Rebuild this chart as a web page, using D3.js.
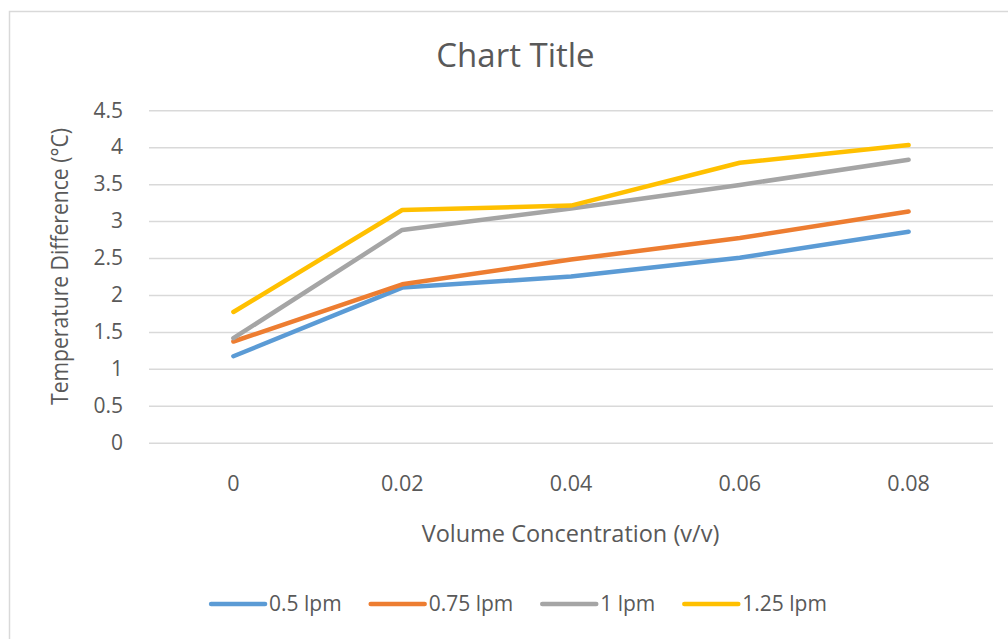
<!DOCTYPE html>
<html>
<head>
<meta charset="utf-8">
<script src="https://cdn.jsdelivr.net/npm/d3@7"></script>
<style>
  html, body { margin: 0; padding: 0; background: #fff; overflow: hidden; }
  svg { display: block; }
  text { font-family: "Open Sans", "Noto Sans", sans-serif; fill: #595959; }
</style>
</head>
<body>
<svg id="chart" width="1008" height="639"></svg>
<script>
// Volume concentrations (category axis)
const categories = ["0", "0.02", "0.04", "0.06", "0.08"];
// Temperature difference (°C) per flow rate
const flow050 = [1.17, 2.10, 2.25, 2.505, 2.857];
const flow075 = [1.37, 2.145, 2.48, 2.77, 3.13];
const flow100 = [1.415, 2.88, 3.17, 3.49, 3.83];
const flow125 = [1.77, 3.15, 3.21, 3.79, 4.03];
const seriesNames = ["0.5 lpm", "0.75 lpm", "1 lpm", "1.25 lpm"];
const yTicks = [0, 0.5, 1, 1.5, 2, 2.5, 3, 3.5, 4, 4.5];

const colors = ["#5B9BD5", "#ED7D31", "#A5A5A5", "#FFC000"];
const series = [flow050, flow075, flow100, flow125].map((values, i) => ({
  name: seriesNames[i], values, color: colors[i]
}));

const svg = d3.select("#chart");

// outer chart frame
svg.append("rect")
  .attr("x", 9.5).attr("y", 11.5)
  .attr("width", 1013).attr("height", 700)
  .attr("fill", "#fff").attr("stroke", "#d9d9d9").attr("stroke-width", 1.5);

const plot = { left: 149, right: 993, top: 110.3, bottom: 442.7 };

const x = d3.scaleBand().domain(categories).range([plot.left, plot.right]);
const y = d3.scaleLinear().domain([0, 4.5]).range([plot.bottom, plot.top]);

// horizontal gridlines + y tick labels
const yAxis = d3.axisLeft(y).tickValues(yTicks).tickSize(-(plot.right - plot.left)).tickPadding(26)
  .tickFormat(d3.format("~g"));
const gy = svg.append("g").attr("transform", `translate(${plot.left},0)`).call(yAxis);
gy.select(".domain").remove();
gy.selectAll(".tick line").attr("stroke", "#d9d9d9").attr("stroke-width", 1.5);
gy.selectAll(".tick text").attr("font-size", 21).attr("fill", "#595959")
  .attr("font-family", "'Open Sans', sans-serif");

// x tick labels
const xAxis = d3.axisBottom(x).tickSize(0).tickPadding(0);
const gx = svg.append("g").attr("transform", `translate(0,${plot.bottom})`).call(xAxis);
gx.select(".domain").remove();
gx.selectAll(".tick text").attr("font-size", 21.5).attr("fill", "#595959")
  .attr("font-family", "'Open Sans', sans-serif")
  .attr("dy", null).attr("y", 48.5);

// series lines
const line = d3.line()
  .x((d, i) => x(categories[i]) + x.bandwidth() / 2)
  .y(d => y(d));

svg.append("g").selectAll("path").data(series).join("path")
  .attr("d", d => line(d.values))
  .attr("fill", "none")
  .attr("stroke", d => d.color)
  .attr("stroke-width", 4.5)
  .attr("stroke-linejoin", "round")
  .attr("stroke-linecap", "round");

// titles
svg.append("text").attr("x", 515.5).attr("y", 67).attr("text-anchor", "middle")
  .attr("font-size", 33).text("Chart Title");

svg.append("text").attr("x", 570.5).attr("y", 542).attr("text-anchor", "middle")
  .attr("font-size", 23.5).text("Volume Concentration (v/v)");

svg.append("text").attr("transform", "translate(68,266.5) rotate(-90)")
  .attr("text-anchor", "middle").attr("font-size", 23.5)
  .attr("textLength", 277).attr("lengthAdjust", "spacingAndGlyphs")
  .text("Temperature Difference (°C)");

// legend
const legend = svg.append("g");
const items = legend.selectAll("g").data(series).join("g");
items.append("line")
  .attr("x1", 0).attr("x2", 54).attr("y1", 604).attr("y2", 604)
  .attr("stroke", d => d.color).attr("stroke-width", 4.5).attr("stroke-linecap", "round");
items.append("text").attr("x", 58).attr("y", 611).attr("font-size", 21).text(d => d.name);

let cursor = 0;
items.each(function () {
  const g = d3.select(this);
  g.attr("transform", `translate(${cursor},0)`);
  const w = g.select("text").node().getComputedTextLength();
  cursor += 58 + w + 29;
});
const total = cursor - 29;
legend.attr("transform", `translate(${519 - total / 2},0)`);
</script>
</body>
</html>
